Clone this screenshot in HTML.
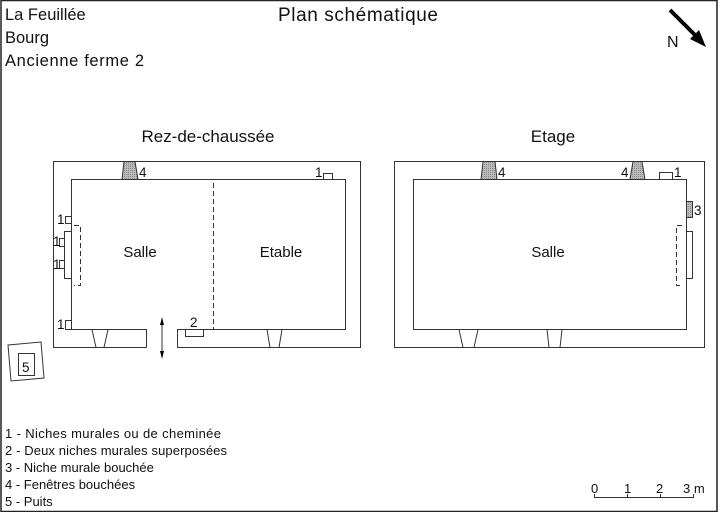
<!DOCTYPE html>
<html><head><meta charset="utf-8"><style>
html,body{margin:0;padding:0;background:#fff}
svg{display:block}
text{font-family:"Liberation Sans","DejaVu Sans",sans-serif;fill:#111}
</style></head><body>
<svg width="720" height="512" viewBox="0 0 720 512" xmlns="http://www.w3.org/2000/svg">
<defs>
<pattern id="dots" width="2" height="2" patternUnits="userSpaceOnUse"><rect width="2" height="2" fill="#bbb"/><rect width="1" height="1" fill="#888"/></pattern>
</defs>
<rect x="1" y="0.5" width="716" height="511" fill="none" stroke="#222" stroke-width="1.5"/>
<text x="5" y="20" font-size="16.5">La Feuillée</text>
<text x="5" y="43" font-size="16.5">Bourg</text>
<text x="5" y="66" font-size="16.5" textLength="139">Ancienne ferme 2</text>
<text x="358" y="21" font-size="19" text-anchor="middle" textLength="160">Plan schématique</text>
<!-- north arrow -->
<line x1="670" y1="10" x2="697" y2="37" stroke="#000" stroke-width="4"/>
<polygon points="706,47 690,39 699,30" fill="#000"/>
<text x="667" y="47" font-size="16">N</text>

<text x="208" y="142" font-size="17" text-anchor="middle" textLength="133">Rez-de-chaussée</text>
<text x="553" y="142" font-size="17" text-anchor="middle">Etage</text>

<g fill="none" stroke="#333" stroke-width="1">
<!-- left plan -->
<polyline points="146.5,347.5 53.5,347.5 53.5,161.5 360.5,161.5 360.5,347.5 177.5,347.5 177.5,329.5 345.5,329.5 345.5,179.5 71.5,179.5 71.5,329.5 146.5,329.5 146.5,347.5"/>
<line x1="213.5" y1="183" x2="213.5" y2="329" stroke-dasharray="5,3"/>
<polygon points="124,161.5 135,161.5 138,179.5 122,179.5" fill="url(#dots)"/>
<polyline points="92,329.5 96,347.5"/><polyline points="108,329.5 104,347.5"/>
<polyline points="267,329.5 270,347.5"/><polyline points="282,329.5 279,347.5"/>
<rect x="323.5" y="173.5" width="9" height="6"/>
<rect x="65.5" y="216.5" width="6" height="7"/>
<rect x="64.5" y="231.5" width="7" height="47"/>
<rect x="59.5" y="238.5" width="5" height="8"/>
<rect x="59.5" y="260.5" width="5" height="8"/>
<polyline points="74,225.5 80.5,225.5 80.5,285.5 74,285.5" stroke-dasharray="5,3"/>
<rect x="65.5" y="320.5" width="6" height="9"/>
<polyline points="185.5,329.5 185.5,336.5 203.5,336.5 203.5,329.5"/>
<line x1="162" y1="320" x2="162" y2="356"/>
<!-- well -->
<polygon points="8,345 41,342 44,378 11,381"/>
<rect x="18.5" y="353.5" width="16" height="22"/>
<!-- right plan -->
<rect x="394.5" y="161.5" width="310" height="186"/>
<rect x="413.5" y="179.5" width="273" height="150"/>
<polygon points="483,161.5 495,161.5 497,179.5 481,179.5" fill="url(#dots)"/>
<polygon points="633,161.5 642,161.5 645,179.5 630,179.5" fill="url(#dots)"/>
<rect x="659.5" y="172.5" width="13" height="7"/>
<rect x="686.5" y="201.5" width="6" height="16" fill="url(#dots)"/>
<rect x="686.5" y="231.5" width="6" height="47"/>
<polyline points="682,225.5 676.5,225.5 676.5,285.5 682,285.5" stroke-dasharray="5,3"/>
<polyline points="459,329.5 463,347.5"/><polyline points="478,329.5 474,347.5"/>
<polyline points="547,329.5 549,347.5"/><polyline points="562,329.5 560,347.5"/>
<!-- scale -->
<polyline points="594.5,494 594.5,497.5 693.5,497.5 693.5,494"/>
<line x1="627.5" y1="494" x2="627.5" y2="497"/><line x1="660.5" y1="494" x2="660.5" y2="497"/>
</g>
<polygon points="162,317 160,325 164,325" fill="#000"/>
<polygon points="162,359 160,351 164,351" fill="#000"/>

<g font-size="13.5">
<text x="140" y="257" font-size="15" text-anchor="middle">Salle</text>
<text x="281" y="257" font-size="15" text-anchor="middle">Etable</text>
<text x="548" y="257" font-size="15" text-anchor="middle">Salle</text>
<text x="139" y="177">4</text>
<text x="315" y="177">1</text>
<text x="57" y="224">1</text>
<text x="53" y="246">1</text>
<text x="53" y="269">1</text>
<text x="57" y="329">1</text>
<text x="190" y="327">2</text>
<text x="22" y="372">5</text>
<text x="498" y="177">4</text>
<text x="621" y="177">4</text>
<text x="674" y="177">1</text>
<text x="694" y="215">3</text>
</g>
<g font-size="13">
<text x="5" y="438" textLength="216">1 - Niches murales ou de cheminée</text>
<text x="5" y="455" textLength="222">2 - Deux niches murales superposées</text>
<text x="5" y="472">3 - Niche murale bouchée</text>
<text x="5" y="489">4 - Fenêtres bouchées</text>
<text x="5" y="506">5 - Puits</text>
</g>
<g font-size="13">
<text x="591" y="493">0</text>
<text x="624" y="493">1</text>
<text x="656" y="493">2</text>
<text x="683" y="493">3 m</text>
</g>
</svg>
</body></html>
